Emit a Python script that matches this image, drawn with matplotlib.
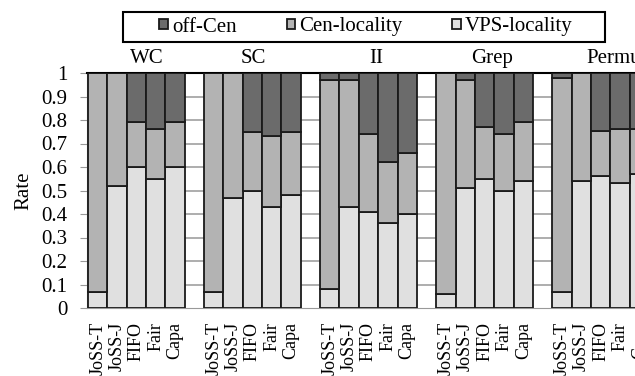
import numpy as np
import matplotlib
matplotlib.use("Agg")
import matplotlib.pyplot as plt
from matplotlib.patches import Rectangle
from matplotlib.transforms import blended_transform_factory

plt.rcParams['font.family'] = ['Liberation Serif', 'DejaVu Serif']

# data
groups = ["WC", "SC", "II", "Grep", "Permu"]
methods = ["JoSS-T", "JoSS-J", "FIFO", "Fair", "Capa"]

vps_wc = [0.07, 0.52, 0.60, 0.55, 0.60]
vps_sc = [0.07, 0.47, 0.50, 0.43, 0.48]
vps_ii = [0.08, 0.43, 0.41, 0.36, 0.40]
vps_grep = [0.06, 0.51, 0.55, 0.50, 0.54]
vps_permu = [0.07, 0.54, 0.56, 0.53, 0.57]

cen_wc = [0.93, 0.48, 0.19, 0.21, 0.19]
cen_sc = [0.93, 0.53, 0.25, 0.30, 0.27]
cen_ii = [0.89, 0.54, 0.33, 0.26, 0.26]
cen_grep = [0.94, 0.46, 0.22, 0.24, 0.25]
cen_permu = [0.91, 0.46, 0.195, 0.23, 0.19]

vps = np.array([vps_wc, vps_sc, vps_ii, vps_grep, vps_permu]).ravel()
cen = np.array([cen_wc, cen_sc, cen_ii, cen_grep, cen_permu]).ravel()
off = 1 - vps - cen

# 5 bars + 1 empty slot per group
x = np.array([g * 6 + b for g in range(len(groups)) for b in range(len(methods))])

c_vps = "#e0e0e0"
c_cen = "#b3b3b3"
c_off = "#6b6b6b"
ec = "#1a1a1a"

fig = plt.figure(figsize=(6.35, 3.76), dpi=100)
# axes runs past the right edge like the cropped original
ax = fig.add_axes([87 / 635, 68 / 376, 562 / 635, 235 / 376])

ax.bar(x, vps, width=1, align='edge', color=c_vps, edgecolor=ec, linewidth=1.3, zorder=3, label="VPS-locality")
ax.bar(x, cen, width=1, bottom=vps, align='edge', color=c_cen, edgecolor=ec, linewidth=1.3, zorder=3, label="Cen-locality")
ax.bar(x, off, width=1, bottom=vps + cen, align='edge', color=c_off, edgecolor=ec, linewidth=1.3, zorder=3, label="off-Cen")

ax.set_xlim(-0.05, 29)
ax.set_ylim(0, 1)
yt = np.round(np.arange(0, 1.01, 0.1), 1)
ax.set_yticks(yt)
ax.set_yticklabels(["0"] + [str(v) for v in yt[1:-1]] + ["1"], fontsize=15)
# grid only shows in the empty slots between groups
for v in yt[1:-1]:
    ax.axhline(v, color="#a0a0a0", linewidth=1.2, zorder=1)

ax.set_xticks(x + 0.5)
ax.set_xticklabels(methods * len(groups), rotation=90, fontsize=13, va='top')
ax.tick_params(axis='x', length=0, pad=10)
ax.tick_params(axis='y', length=5, color="#999999", pad=9)

ax.set_ylabel("Rate", fontsize=15, labelpad=6)

ax.spines["right"].set_visible(False)
ax.spines["top"].set_color("black")
ax.spines["top"].set_linewidth(1.5)
ax.spines["left"].set_color("#999999")
ax.spines["bottom"].set_color("#999999")

# group names above the bars
trans = blended_transform_factory(ax.transData, ax.transAxes)
title_x = [3.05, 8.55, 14.9, 20.9, 27.2]
for tx, name in zip(title_x, groups):
    ax.text(tx, 1.06, name, transform=trans, ha='center', va='center', fontsize=15)

h, l = ax.get_legend_handles_labels()
leg = fig.legend(h[::-1], l[::-1], loc='center', bbox_to_anchor=(366 / 635, 1 - 27 / 376),
                 ncol=3, fontsize=15, frameon=False, handlelength=0.4,
                 handleheight=0.4, handletextpad=0.2, columnspacing=2.4, borderpad=0.25,
                 borderaxespad=0)
# legend box drawn by hand, wider than the entries
fig.patches.append(Rectangle((123 / 635, 1 - 42 / 376), 482 / 635, 30 / 376,
                             transform=fig.transFigure, fill=False,
                             edgecolor="black", linewidth=1.5))

fig.savefig("out.png", dpi=100)
